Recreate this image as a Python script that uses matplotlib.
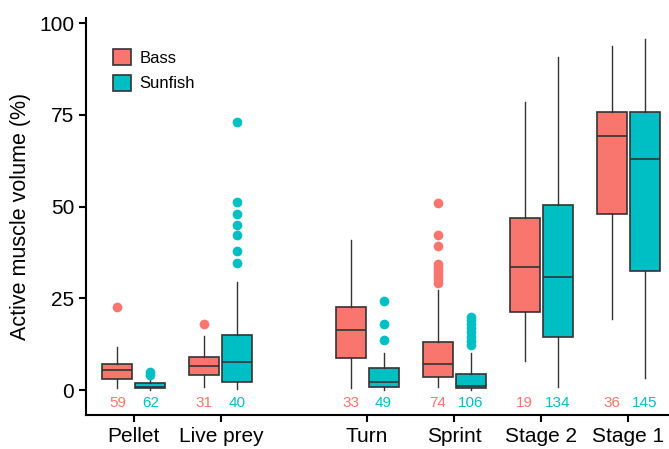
import matplotlib.pyplot as plt

plt.rcParams["font.family"] = ["Liberation Sans", "DejaVu Sans"]

categories = ["Pellet", "Live prey", "Turn", "Sprint", "Stage 2", "Stage 1"]
positions = [1, 2, 3.68, 4.68, 5.68, 6.68]
groups = ["Bass", "Sunfish"]
colors = {"Bass": "#F8766D", "Sunfish": "#00BFC4"}

# box stats: (whislo, q1, med, q3, whishi)
bass_stats = [
    (0.5, 3.0, 5.4, 7.1, 11.7),
    (0.9, 4.2, 6.6, 9.0, 14.7),
    (0.5, 8.7, 16.5, 22.6, 40.9),
    (0.9, 3.5, 7.0, 13.1, 27.4),
    (7.8, 21.4, 33.6, 46.8, 78.5),
    (19.4, 48.1, 69.2, 75.8, 93.8),
]
sunfish_stats = [
    (0.0, 0.45, 0.7, 2.0, 3.0),
    (0.3, 2.1, 7.6, 15.1, 29.5),
    (0.0, 0.9, 2.1, 5.9, 10.0),
    (0.0, 0.45, 1.1, 4.5, 10.0),
    (0.9, 14.4, 30.9, 50.5, 90.9),
    (3.4, 32.4, 63.0, 75.8, 95.8),
]
bass_outliers = [
    [22.6],
    [18.0],
    [],
    [51.0, 42.2, 39.4, 34.5, 33.6, 32.8, 32.0, 31.0, 30.2, 29.3],
    [],
    [],
]
sunfish_outliers = [
    [4.8, 4.1],
    [73.0, 51.2, 48.0, 45.0, 42.4, 38.0, 34.7],
    [24.2, 18.0, 13.7],
    [19.8, 19.2, 18.0, 16.8, 15.7, 14.5, 13.3, 12.3],
    [],
    [],
]
bass_n = [59, 31, 33, 74, 19, 36]
sunfish_n = [62, 40, 49, 106, 134, 145]


def to_bxp(stats, outliers):
    out = []
    for (lo, q1, med, q3, hi), fl in zip(stats, outliers):
        out.append(dict(whislo=lo, q1=q1, med=med, q3=q3, whishi=hi, fliers=fl))
    return out


fig = plt.figure(figsize=(6.69, 4.49), dpi=100)
ax = fig.add_axes([0.1286, 0.0757, 0.8714, 0.884])

offset = 0.19
width = 0.345
series = [
    ("Bass", bass_stats, bass_outliers, bass_n, -offset),
    ("Sunfish", sunfish_stats, sunfish_outliers, sunfish_n, offset),
]
for name, stats, outl, counts, off in series:
    col = colors[name]
    ax.bxp(
        to_bxp(stats, outl),
        positions=[p + off for p in positions],
        widths=width,
        patch_artist=True,
        showcaps=False,
        boxprops=dict(facecolor=col, edgecolor="#333333", linewidth=1.2),
        medianprops=dict(color="#333333", linewidth=1.2),
        whiskerprops=dict(color="#333333", linewidth=1.0),
        flierprops=dict(marker="o", markerfacecolor=col, markeredgecolor="none",
                        markersize=7),
    )
    for p, n in zip(positions, counts):
        ax.text(p + off, -3.6, str(n), color=col, fontsize=11,
                ha="center", va="center")

ax.set_xlim(0.45, 7.15)
ax.set_ylim(-6.8, 101.4)
ax.set_xticks(positions)
ax.set_xticklabels(categories)
ax.set_yticks([0, 25, 50, 75, 100])
ax.tick_params(labelsize=15, length=5, width=1.5, colors="black")
ax.set_ylabel("Active muscle volume (%)", fontsize=15.5, labelpad=6)
for s in ["top", "right"]:
    ax.spines[s].set_visible(False)
for s in ["left", "bottom"]:
    ax.spines[s].set_linewidth(1.5)

handles = [plt.Rectangle((0, 0), 1, 1, facecolor=colors[g], edgecolor="#333333",
                         linewidth=1.2) for g in groups]
ax.legend(handles, groups, loc="upper left", bbox_to_anchor=(0.02, 0.96),
          frameon=False, fontsize=12, handlelength=1.1, handleheight=1.1,
          handletextpad=0.5, labelspacing=0.55)

fig.savefig("out.png", dpi=100)
